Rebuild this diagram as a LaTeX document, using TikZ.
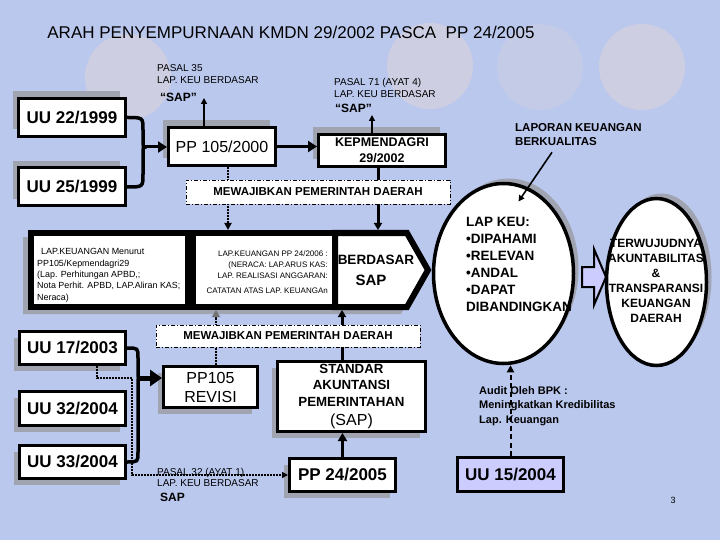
\documentclass[tikz,border=0pt]{standalone}
\usepackage{fontspec}
\setmainfont{Liberation Sans}
\usetikzlibrary{arrows.meta,shadows,calc,shapes.geometric}
\definecolor{bgblue}{RGB}{186,200,238}
\definecolor{disc}{RGB}{206,206,226}
\definecolor{shgray}{RGB}{160,163,176}
\definecolor{lav}{RGB}{204,204,255}
\pgfdeclarelayer{back}\pgfdeclarelayer{mid}
\pgfsetlayers{back,mid,main}
\newcommand{\myfs}[2]{\fontsize{#1}{#2}\selectfont}
\tikzset{
  box/.style={draw, line width=3pt, fill=white, inner sep=1pt, align=center, font=\myfs{17}{20}\bfseries},
  shUL/.style={general shadow={shadow xshift=-6pt, shadow yshift=7pt, fill=shgray}},
  shDL/.style={general shadow={shadow xshift=-6pt, shadow yshift=-6pt, fill=shgray}},
  shUR/.style={general shadow={shadow xshift=5pt, shadow yshift=5pt, fill=shgray}},
  mewbox/.style={draw, line width=0.9pt, dash pattern=on 4pt off 2pt on 1pt off 2pt, fill=white, inner sep=0pt, font=\myfs{11.5}{13}\bfseries},
  lbl/.style={inner sep=0pt, anchor=west, align=left},
  thickarr/.style={line width=3pt, -{Triangle[length=9pt,width=11pt]}},
  thinarr/.style={line width=1.6pt, -{Triangle[length=6pt,width=6pt]}},
  dotln/.style={line width=2.2pt, dash pattern=on 1.6pt off 1.4pt},
  bracel/.style={line width=3.5pt, line cap=round},
  ell/.style={ellipse, draw, line width=3.5pt, fill=white, inner sep=0pt},
}
\begin{document}
\begin{tikzpicture}[x=1pt,y=-1pt]
\begin{pgfonlayer}{back}
\fill[bgblue] (0,0) rectangle (720,540);
\foreach \cx/\cy in {128/77,430/66,642/67}{\fill[disc] (\cx,\cy) circle (43pt);}
\fill[disc,opacity=0.5] (540,67) circle (43pt);
\fill[shgray] (23,237) -- (401,237) -- (422,276) -- (401,314) -- (23,314) -- cycle;
\end{pgfonlayer}
\useasboundingbox (0,0) rectangle (720,540);

\node[font=\myfs{17}{20}] (title) at (291,32) {ARAH PENYEMPURNAAN KMDN 29/2002 PASCA\ \ PP 24/2005};

% top boxes
\node[box, shUL, minimum width=107pt, minimum height=38pt] (uu22) at (72,117.5) {UU 22/1999};
\node[box, shUL, minimum width=107pt, minimum height=38pt] (uu25) at (72,187) {UU 25/1999};
\node[box, shUL, font=\myfs{16}{19}, minimum width=107pt, minimum height=38pt] (pp105) at (222,146.5) {PP 105/2000};
\node[box, shUL, font=\myfs{12.5}{16}\bfseries, minimum width=127pt, minimum height=32pt] (kep) at (382,150.5) {KEPMENDAGRI\\29/2002};

% labels
\node[lbl, font=\myfs{10}{12}] (p35) at (157,74) {PASAL 35\\LAP. KEU BERDASAR};
\node[lbl, font=\myfs{12}{14}\bfseries] (sap1) at (160,97) {“SAP”};
\node[lbl, font=\myfs{10}{12}] (p71) at (334,88) {PASAL 71 (AYAT 4)\\LAP. KEU BERDASAR};
\node[lbl, font=\myfs{12}{14}\bfseries] (sap2) at (335,108) {“SAP”};

\draw[thinarr] ($(pp105.north)+(-18,0)$) -- ++(0,-28);
\draw[thinarr] ($(kep.north)+(-10,0)$) -- ++(0,-18);
\draw[thickarr] (pp105.east) -- (pp105.east -| kep.west);

% brace 1
\coordinate (j1) at (146,147);
\draw[bracel] (uu22.east) .. controls (143,117.5) .. (143,130) -- (143,139) .. controls (143,147) .. (j1);
\draw[bracel] (uu25.east) .. controls (143,187) .. (143,174) -- (143,155) .. controls (143,147) .. (j1);
\draw[thickarr] (j1) -- (j1 -| pp105.west);

\node[mewbox, minimum width=264pt, minimum height=24pt] (mew1) at (318,192) {MEWAJIBKAN PEMERINTAH DAERAH};

% band
\draw[line width=6pt, line join=miter, fill=white] (335,233) -- (407,233) -- (428,270) -- (407,307) -- (335,307) -- cycle;
\node[draw, line width=6pt, fill=white, minimum width=157pt, minimum height=74pt, inner sep=0pt] (A) at (109.5,270) {};
\node[draw, line width=6pt, fill=white, minimum width=142pt, minimum height=74pt, inner sep=0pt] (B) at (264,270) {};
\node[lbl, anchor=north west, font=\myfs{8.9}{11.3}] (atext) at (37,248.5) {\hspace{4pt}LAP.KEUANGAN Menurut\\PP105/Kepmendagri29\\(Lap. Perhitungan APBD,;\\Nota Perhit. APBD, LAP.Aliran KAS;\\Neraca)};
\node[inner sep=0pt, anchor=north east, align=right, font=\myfs{8}{10.7}] (btext) at (328,251) {LAP.KEUANGAN PP 24/2006 :\\(NERACA: LAP.ARUS KAS:\\LAP. REALISASI ANGGARAN:\\[4pt]CATATAN ATAS LAP. KEUANGAn\hspace{3pt}};
\node[font=\myfs{13.5}{16}\bfseries, inner sep=0pt] (berd) at (376,260) {BERDASAR};
\node[font=\myfs{15}{18}\bfseries, inner sep=0pt] (sapc) at (371,280) {SAP};
\coordinate (ctop) at (378,230);

\node[mewbox, minimum width=264pt, minimum height=22pt] (mew2) at (288,336) {MEWAJIBKAN PEMERINTAH DAERAH};

% lower boxes
\node[box, shDL, minimum width=106pt, minimum height=33pt] (uu17) at (72.5,348) {UU 17/2003};
\node[box, shDL, minimum width=106pt, minimum height=34pt] (uu32) at (72.5,408.5) {UU 32/2004};
\node[box, shDL, minimum width=106pt, minimum height=33pt] (uu33) at (72.5,462) {UU 33/2004};
\node[box, shDL, font=\myfs{16}{19}, minimum width=94pt, minimum height=41pt] (pprev) at (210.5,387) {PP105\\REVISI};
\node[box, shDL, font=\myfs{13.3}{16.5}\bfseries, minimum width=148pt, minimum height=70pt] (std) at (351.5,396.5) {STANDAR\\AKUNTANSI\\PEMERINTAHAN\\[3pt]{\myfs{16}{19}\mdseries (SAP)}};
\node[box, shDL, minimum width=106pt, minimum height=33pt] (pp24) at (342.5,475) {PP 24/2005};
\node[box, fill=lav, minimum width=106pt, minimum height=34pt] (uu15) at (510.5,474.5) {UU 15/2004};

\node[lbl, font=\myfs{10}{11.5}] (p32) at (157,477.5) {PASAL 32 (AYAT 1)\\LAP. KEU BERDASAR};
\node[lbl, font=\myfs{12}{14}\bfseries] (sap3) at (160,497) {SAP};

% brace 2
\coordinate (j2) at (140,378);
\draw[dotln, -{Triangle[length=6pt,width=6pt]}] ($(uu17.south)+(24.5,0)$) -- ++(0,12) -| (132,475) -- (pp24.west);
\draw[bracel] (uu17.east) .. controls (138,348) .. (138,358) -- (138,370) .. controls (138,378) .. (j2);
\draw[bracel] (uu33.east) .. controls (138,462) .. (138,452) -- (138,386) .. controls (138,378) .. (j2);
\draw[line width=5pt, -{Triangle[length=12pt,width=16pt]}] (j2) -- (j2 -| pprev.west);

\draw[line width=3pt, -{Triangle[length=8pt,width=9pt]}] (pp24.north) -- (pp24.north |- std.south);

% through-box connectors
\begin{pgfonlayer}{mid}
\draw[dotln, -{Triangle[length=7pt,width=7pt]}] ($(pp105.south)+(6,0)$) -- ($(B.north)+(-36,0)$);
\draw[line width=3pt, -{Triangle[length=7pt,width=8pt]}] ($(kep.south)+(-4,0)$) -- (ctop);
\draw[dotln, -{Triangle[length=7pt,width=8pt,color=black!55]}] ($(pprev.north)+(5.5,0)$) -- ($(A.south)+(106.5,0)$);
\draw[line width=3pt, -{Triangle[length=7pt,width=8pt]}] ($(std.north)+(-9.5,0)$) -- ($(B.south)+(78,0)$);
\end{pgfonlayer}

% ellipses
\node[ell, shUR, minimum width=140pt, minimum height=180pt] (e1) at (503.5,273.5) {};
\node[lbl, anchor=north west, font=\myfs{13.5}{16.9}\bfseries] (e1t) at (466,217.5) {LAP KEU:\\•DIPAHAMI\\•RELEVAN\\•ANDAL\\•DAPAT\\DIBANDINGKAN};
\draw[fill=lav, line width=2pt, line join=miter] (582,267) -- (594,267) -- (594,249) -- (606,277) -- (594,305) -- (594,287) -- (582,287) -- cycle;
\node[ell, shUR, minimum width=100pt, minimum height=167pt] (e2) at (656.5,282) {};
\node[font=\myfs{12}{15}\bfseries, align=center, inner sep=0pt] (e2t) at (656,281) {TERWUJUDNYA\\AKUNTABILITAS\\\&\\TRANSPARANSI\\KEUANGAN\\DAERAH};

\node[lbl, font=\myfs{11.5}{14}\bfseries] (lapk) at (515,135) {LAPORAN KEUANGAN\\BERKUALITAS};
\draw[thinarr] ($(lapk.south west)+(37,6)$) -- ($(e1.center)+(15,-72)$);

\node[lbl, font=\myfs{11}{14.5}\bfseries] (audit) at (479,406) {Audit Oleh BPK :\\Meningkatkan Kredibilitas\\Lap. Keuangan};
\draw[line width=2pt, dash pattern=on 5pt off 3.5pt, -{Triangle[length=7pt,width=7pt]}] (uu15.north) -- (e1.south -| uu15.north);

\node[font=\myfs{9}{10}] (pg) at (673,500) {3};
\end{tikzpicture}
\end{document}
